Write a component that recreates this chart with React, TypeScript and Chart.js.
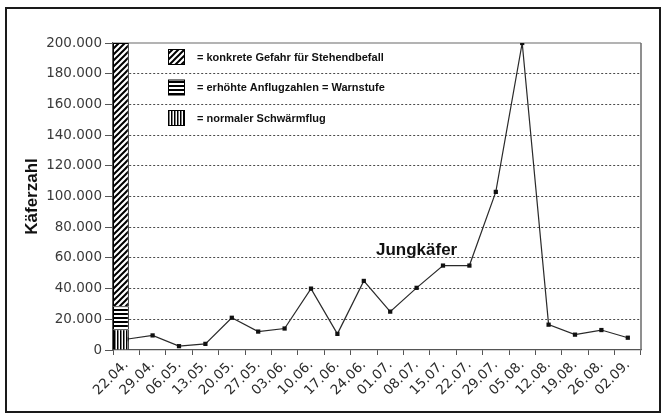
import { useEffect, useRef } from 'react';
import { Chart, registerables } from 'chart.js';

Chart.register(...registerables);

const categories = ['22.04.', '29.04.', '06.05.', '13.05.', '20.05.', '27.05.', '03.06.', '10.06.', '17.06.', '24.06.', '01.07.', '08.07.', '15.07.', '22.07.', '29.07.', '05.08.', '12.08.', '19.08.', '26.08.', '02.09.'];
const beetleCounts = [7000, 9500, 2500, 4000, 21000, 12000, 14000, 40000, 10500, 45000, 25000, 40500, 55000, 55000, 103000, 200000, 16500, 10000, 13000, 8000];

// stacked threshold bar at the first category
const zoneNormal = [13500];
const zoneWarning = [15000];
const zoneDanger = [171500];

const legendLabels = ['= konkrete Gefahr für Stehendbefall', '= erhöhte Anflugzahlen = Warnstufe', '= normaler Schwärmflug'];
const yTitle = 'Käferzahl';
const yMin = 0;
const yMax = 200000;
const yStep = 20000;

const annotationText = 'Jungkäfer';
const annotationCategory = '08.07.';
const annotationValue = 62000;

function makePattern(kind: 'diag' | 'horiz' | 'vert'): CanvasPattern | string {
  const c = document.createElement('canvas');
  const size = kind === 'diag' ? 6 : kind === 'horiz' ? 4 : 3;
  c.width = size;
  c.height = size;
  const g = c.getContext('2d');
  if (!g) return '#000';
  g.fillStyle = '#fff';
  g.fillRect(0, 0, size, size);
  g.fillStyle = '#000';
  g.strokeStyle = '#000';
  if (kind === 'diag') {
    g.lineWidth = 2;
    g.beginPath();
    g.moveTo(-1, size + 1);
    g.lineTo(size + 1, -1);
    g.moveTo(-1, 1);
    g.lineTo(1, -1);
    g.moveTo(size - 1, size + 1);
    g.lineTo(size + 1, size - 1);
    g.stroke();
  } else if (kind === 'horiz') {
    g.fillRect(0, 1, size, 2);
  } else {
    g.fillRect(0, 0, 1.5, size);
  }
  const p = g.createPattern(c, 'repeat');
  return p || '#000';
}

const fmt = (v: number) => String(v).replace(/\B(?=(\d{3})+(?!\d))/g, '.');

const framePlugin = {
  id: 'frame',
  beforeDatasetsDraw(chart: any) {
    const { ctx, chartArea: a } = chart;
    ctx.save();
    ctx.lineWidth = 1.5;
    ctx.strokeStyle = '#9a9a9a';
    ctx.beginPath();
    ctx.moveTo(a.left, a.top);
    ctx.lineTo(a.right, a.top);
    ctx.stroke();
    ctx.strokeStyle = '#6a6a6a';
    ctx.beginPath();
    ctx.moveTo(a.right, a.top);
    ctx.lineTo(a.right, a.bottom);
    ctx.stroke();
    ctx.restore();
  },
};

const legendPlugin = {
  id: 'zoneLegend',
  afterDraw(chart: any) {
    const { ctx, chartArea: a } = chart;
    const order = [2, 1, 0];
    ctx.save();
    ctx.font = 'bold 11px "Liberation Sans", Arial, sans-serif';
    ctx.textBaseline = 'middle';
    ctx.textAlign = 'left';
    order.forEach((dsIndex, i) => {
      const ds = chart.data.datasets[dsIndex];
      const x = a.left + 55;
      const y = a.top + 6 + i * 30.5;
      ctx.fillStyle = ds.backgroundColor;
      ctx.fillRect(x, y, 17, 16);
      ctx.strokeStyle = '#000';
      ctx.lineWidth = 1;
      ctx.strokeRect(x + 0.5, y + 0.5, 16, 15);
      ctx.fillStyle = '#111';
      ctx.fillText(legendLabels[i], x + 29, y + 8.5);
    });
    ctx.restore();
  },
};

const annotationPlugin = {
  id: 'annotation',
  afterDraw(chart: any) {
    const { ctx } = chart;
    const xs = chart.scales.x;
    const ys = chart.scales.y;
    const x = xs.getPixelForValue(categories.indexOf(annotationCategory));
    const y = ys.getPixelForValue(annotationValue);
    ctx.save();
    ctx.font = 'bold 17px "Liberation Sans", Arial, sans-serif';
    ctx.fillStyle = '#111';
    ctx.textAlign = 'center';
    ctx.textBaseline = 'alphabetic';
    ctx.fillText(annotationText, x, y);
    ctx.restore();
  },
};

export default function App() {
  const ref = useRef<HTMLCanvasElement | null>(null);

  useEffect(() => {
    if (!ref.current) return;
    const diag = makePattern('diag');
    const horiz = makePattern('horiz');
    const vert = makePattern('vert');
    const tickFont = { family: '"DejaVu Sans", Arial, sans-serif', size: 13.5 };

    const chart = new Chart(ref.current, {
      type: 'line',
      data: {
        labels: categories,
        datasets: [
          {
            type: 'bar',
            label: legendLabels[2],
            data: zoneNormal,
            stack: 'zones',
            backgroundColor: vert as any,
            borderColor: '#000',
            borderWidth: 1,
            categoryPercentage: 0.8,
            barPercentage: 1.5,
          } as any,
          {
            type: 'bar',
            label: legendLabels[1],
            data: zoneWarning,
            stack: 'zones',
            backgroundColor: horiz as any,
            borderColor: '#000',
            borderWidth: 1,
            categoryPercentage: 0.8,
            barPercentage: 1.5,
          } as any,
          {
            type: 'bar',
            label: legendLabels[0],
            data: zoneDanger,
            stack: 'zones',
            backgroundColor: diag as any,
            borderColor: '#000',
            borderWidth: 1,
            categoryPercentage: 0.8,
            barPercentage: 1.5,
          } as any,
          {
            type: 'bar',
            label: '',
            data: [],
            stack: 'spacer',
            backgroundColor: 'transparent',
            categoryPercentage: 0.8,
            barPercentage: 1.5,
          } as any,
          {
            type: 'line',
            label: yTitle,
            data: beetleCounts,
            borderColor: '#2a2a2a',
            borderWidth: 1.2,
            tension: 0,
            pointStyle: 'rect',
            pointRadius: 3,
            pointBackgroundColor: '#111',
            pointBorderColor: '#111',
            pointBorderWidth: 0,
          } as any,
        ],
      },
      options: {
        animation: false,
        responsive: true,
        maintainAspectRatio: false,
        events: [],
        layout: { padding: { left: 18, top: 43, right: 22, bottom: 0 } },
        plugins: {
          legend: { display: false },
          tooltip: { enabled: false },
        },
        scales: {
          x: {
            type: 'category',
            offset: true,
            grid: {
              offset: true,
              drawOnChartArea: false,
              drawTicks: true,
              tickLength: 5,
              tickColor: '#555',
              tickWidth: 1,
            },
            border: { display: true, color: '#555', width: 1.2 },
            ticks: {
              font: tickFont,
              color: '#2a2a2a',
              maxRotation: 45,
              minRotation: 45,
              autoSkip: false,
              padding: 2,
            },
            afterFit(s: any) {
              s.height = 68;
              s.paddingLeft = 0;
              s.paddingRight = 0;
            },
          },
          y: {
            type: 'linear',
            stacked: true,
            min: yMin,
            max: yMax,
            grid: {
              color: (c: any) => (c.tick && (c.tick.value === yMax || c.tick.value === yMin) ? 'rgba(0,0,0,0)' : '#4a4a4a'),
              lineWidth: 1,
              tickLength: 8,
              tickColor: '#555',
              tickWidth: 1,
            },
            border: { display: true, color: '#555', width: 1.2, dash: [2, 2] },
            ticks: {
              stepSize: yStep,
              font: tickFont,
              color: '#3a3a3a',
              padding: 3,
              callback: (v: any) => fmt(Number(v)),
            },
            title: {
              display: true,
              text: yTitle,
              color: '#111',
              font: { family: '"Liberation Sans", Arial, sans-serif', size: 17, weight: 'bold' },
              padding: { top: 4, bottom: 4 },
            },
            afterFit(s: any) {
              s.width = 95;
              s.paddingTop = 0;
              s.paddingBottom = 0;
            },
          },
        },
      } as any,
      plugins: [framePlugin, legendPlugin, annotationPlugin],
    });

    return () => chart.destroy();
  }, []);

  return (
    <div style={{ position: 'fixed', left: 0, top: 0, width: 663, height: 418, background: '#fff' }}>
      <canvas ref={ref} />
      <div
        style={{
          position: 'absolute',
          left: 5,
          top: 7,
          width: 656,
          height: 406,
          border: '2px solid #1a1a1a',
          boxSizing: 'border-box',
          pointerEvents: 'none',
        }}
      />
    </div>
  );
}
